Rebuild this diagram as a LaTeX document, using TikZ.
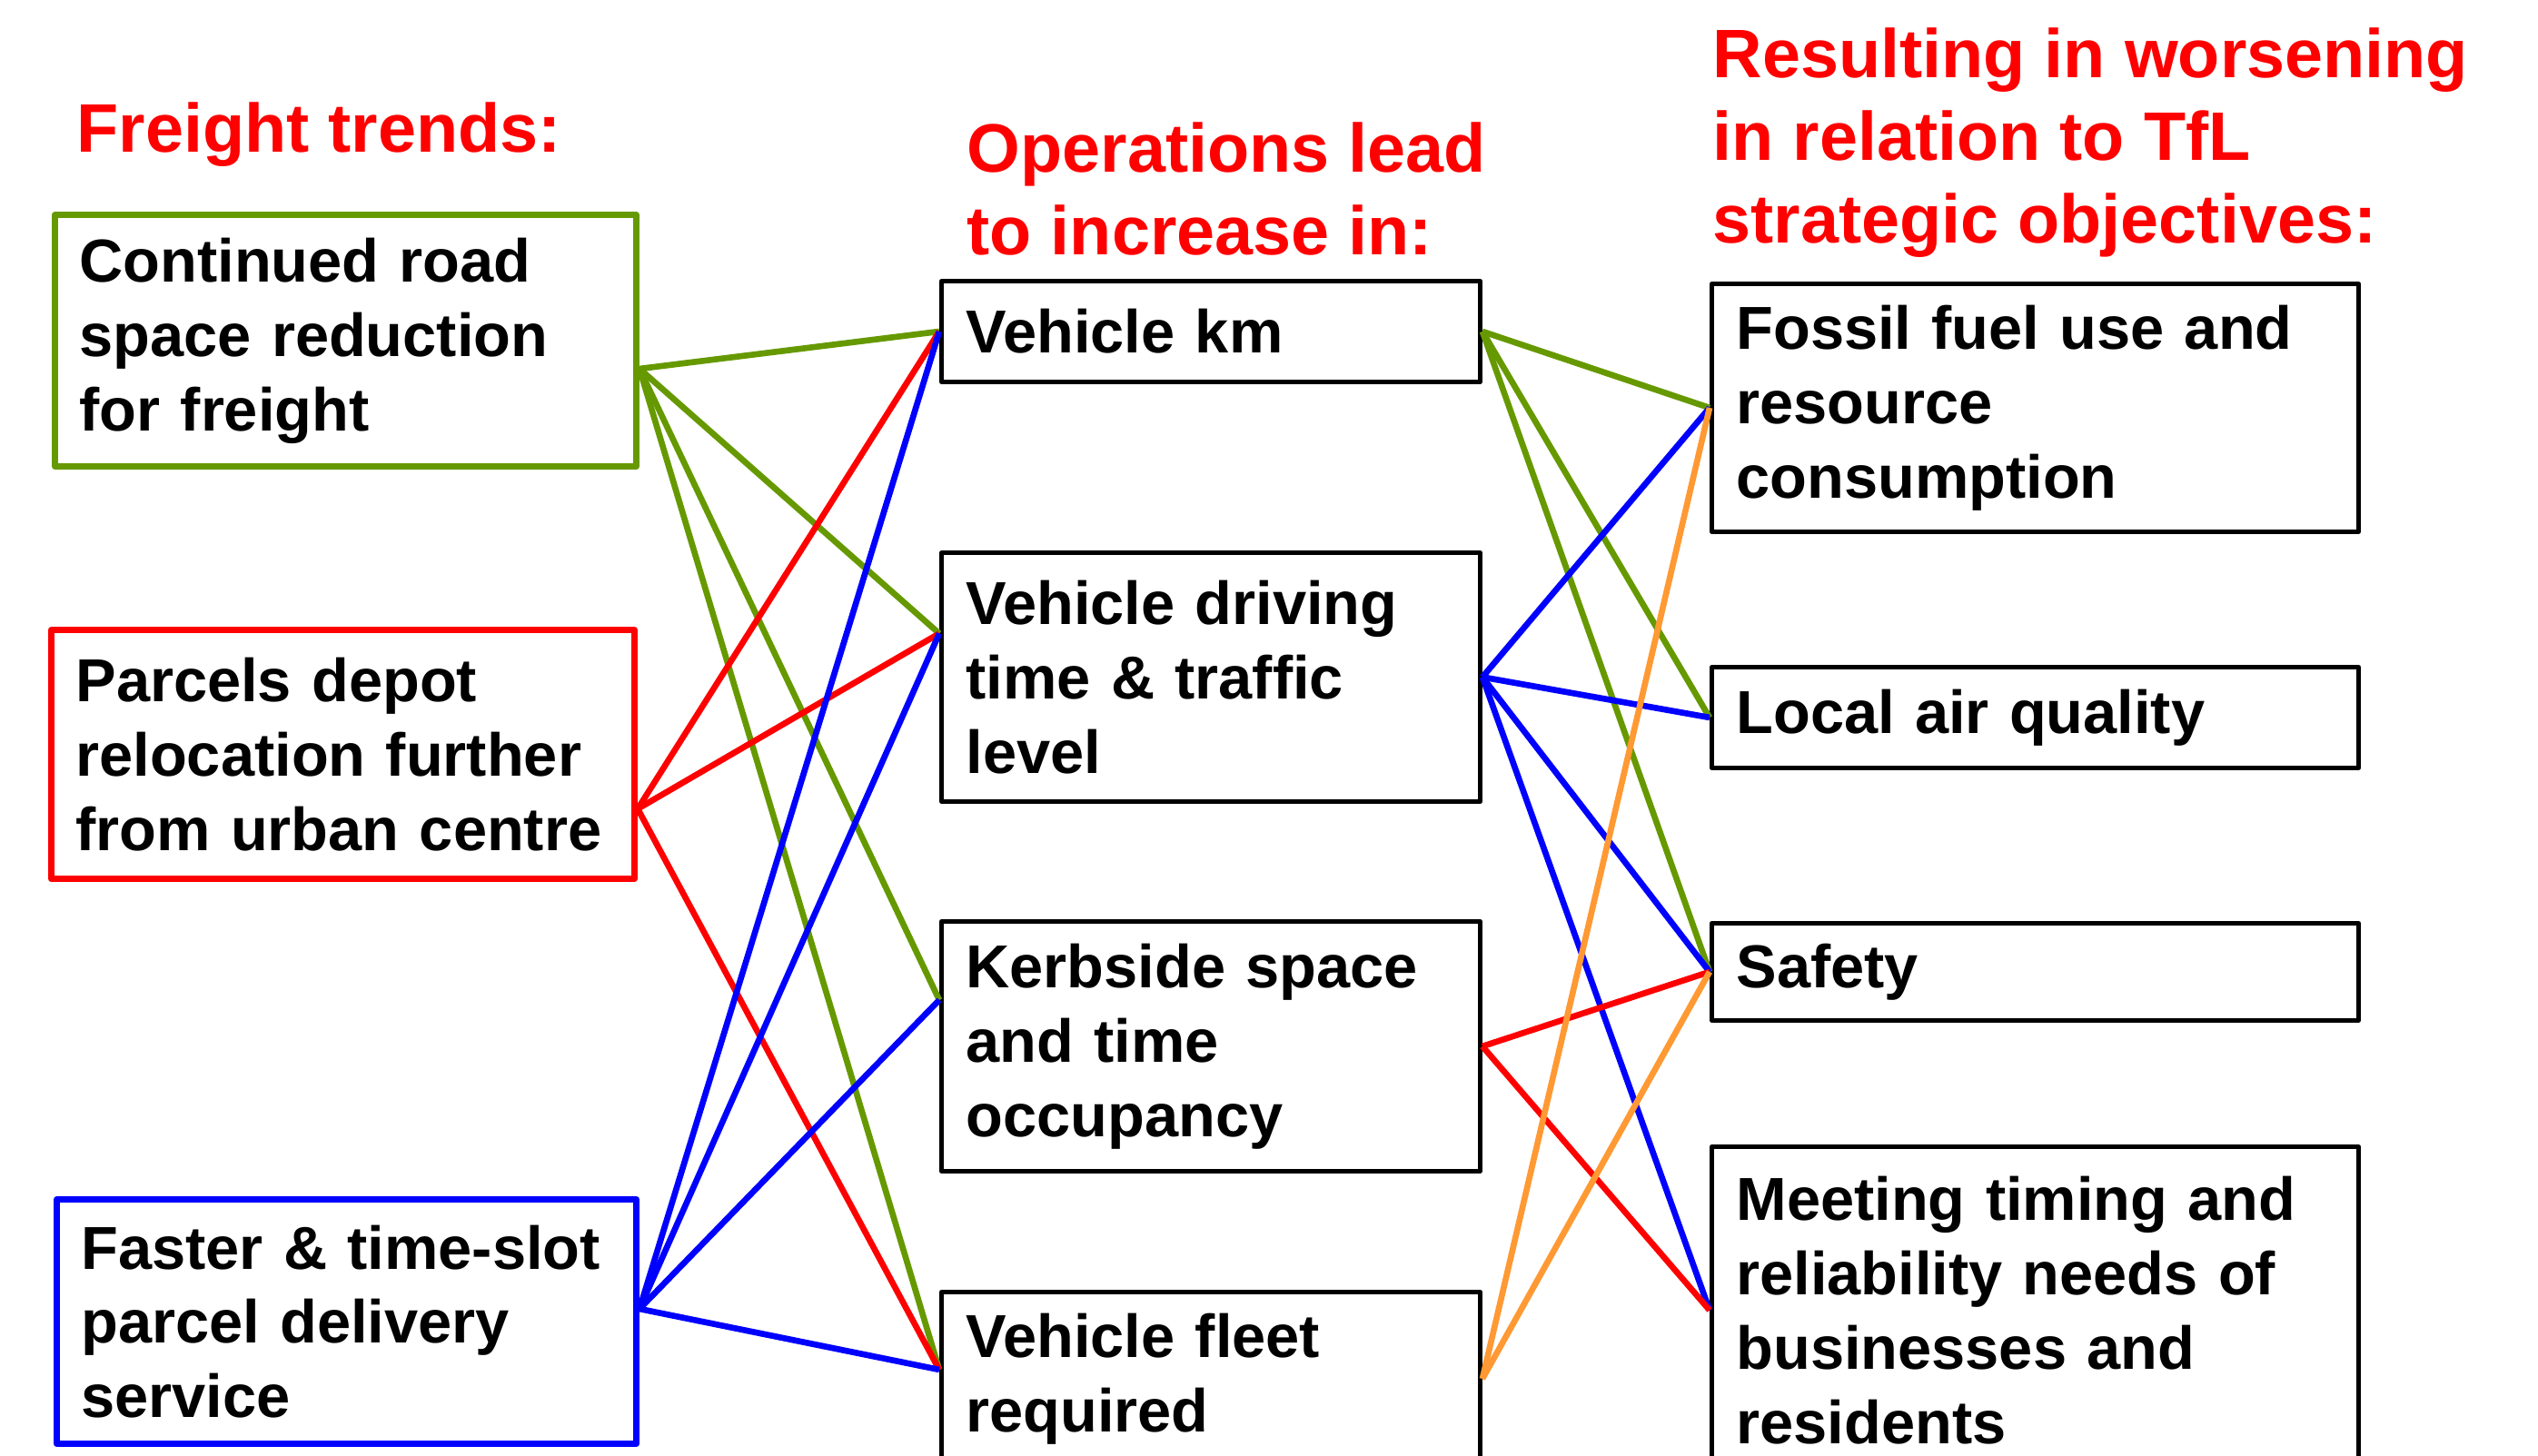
\documentclass[tikz,border=0pt]{standalone}
\usepackage{fontspec}
\setmainfont{Liberation Sans}

\definecolor{trendgreen}{RGB}{102,153,0}
\definecolor{trendorange}{RGB}{255,153,51}

\begin{document}
\begin{tikzpicture}[line join=round]
    \tikzstyle{every node}=[font=\bfseries\fontsize{19}{23.3}\selectfont]
    \tikzstyle{head}=[text=red,inner sep=0pt,align=left,anchor=north west,
        font=\bfseries\fontsize{21.5}{25.9}\selectfont]
    \tikzstyle{box}=[draw=black,line width=1.4pt,rectangle,align=left,
        anchor=north west,inner xsep=0.27cm,inner ysep=0pt]
    \tikzstyle{trendbox}=[box,line width=2pt]
    \tikzstyle{link}=[line width=1.9pt]

    \useasboundingbox (0,0) rectangle (27.94,-16.03);

    % column headings
    \node[head] (trendshead) at (0.84,-1.12) {Freight trends:};
    \node[head] (opshead)    at (10.64,-1.34) {Operations lead\\to increase in:};
    \node[head] (objhead)    at (18.85,-0.30) {Resulting in worsening\\in relation to TfL\\strategic objectives:};

    % freight trends
    \node[trendbox,draw=trendgreen,text width=5.86cm,minimum height=2.77cm] (road)
        at (0.57,-2.33) {Continued road\\space reduction\\for freight};
    \node[trendbox,draw=red,text width=5.88cm,minimum height=2.74cm] (depot)
        at (0.53,-6.90) {Parcels depot\\relocation further\\from urban centre};
    \node[trendbox,draw=blue,text width=5.84cm,minimum height=2.69cm] (faster)
        at (0.59,-13.17) {Faster \& time-slot\\parcel delivery\\service};

    % operations
    \node[box,text width=5.39cm,minimum height=1.11cm] (vkm)    at (10.34,-3.07)  {Vehicle km};
    \node[box,text width=5.39cm,minimum height=2.74cm] (vdrive) at (10.34,-6.06)  {Vehicle driving\\time \& traffic\\level};
    \node[box,text width=5.39cm,minimum height=2.75cm] (kerb)   at (10.34,-10.12) {Kerbside space\\and time\\occupancy};
    \node[box,text width=5.39cm,minimum height=1.91cm] (fleet)  at (10.34,-14.20) {Vehicle fleet\\required};

    % objectives
    \node[box,text width=6.58cm,minimum height=2.73cm] (fossil)  at (18.82,-3.10)  {Fossil fuel use and\\resource\\consumption};
    \node[box,text width=6.58cm,minimum height=1.11cm] (air)     at (18.82,-7.32)  {Local air quality};
    \node[box,text width=6.58cm,minimum height=1.07cm] (safety)  at (18.82,-10.14) {Safety};
    \node[box,text width=6.58cm,minimum height=3.60cm] (meeting) at (18.82,-12.60) {Meeting timing and\\reliability needs of\\businesses and\\residents};

    % where the lines meet the boxes
    \coordinate (road out)   at ([yshift=-0.31cm]road.east);
    \coordinate (depot out)  at ([yshift=-0.60cm]depot.east);
    \coordinate (faster out) at ([yshift=0.14cm]faster.east);
    \coordinate (vkm in)     at (vkm.west);
    \coordinate (vdrive in)  at ([yshift=0.48cm]vdrive.west);
    \coordinate (kerb in)    at ([yshift=0.51cm]kerb.west);
    \coordinate (fleet in)   at ([yshift=0.10cm]fleet.west);

    \path[link,trendgreen] (road out) edge (vkm in)
                                      edge (vdrive in)
                                      edge (kerb in)
                                      edge (fleet in);
    \path[link,red]        (depot out) edge (vkm in)
                                       edge (vdrive in)
                                       edge (fleet in);
    \path[link,blue]       (faster out) edge (vkm in)
                                        edge (vdrive in)
                                        edge (kerb in)
                                        edge (fleet in);

    \path[link,trendgreen]  (vkm.east) edge (fossil.west)
                                       edge (air.west)
                                       edge (safety.west);
    \path[link,blue]        (vdrive.east) edge (fossil.west)
                                          edge (air.west)
                                          edge (safety.west)
                                          edge (meeting.west);
    \path[link,red]         (kerb.east) edge (safety.west)
                                        edge (meeting.west);
    \path[link,trendorange] (fleet.east) edge (fossil.west)
                                         edge (safety.west);
\end{tikzpicture}
\end{document}
